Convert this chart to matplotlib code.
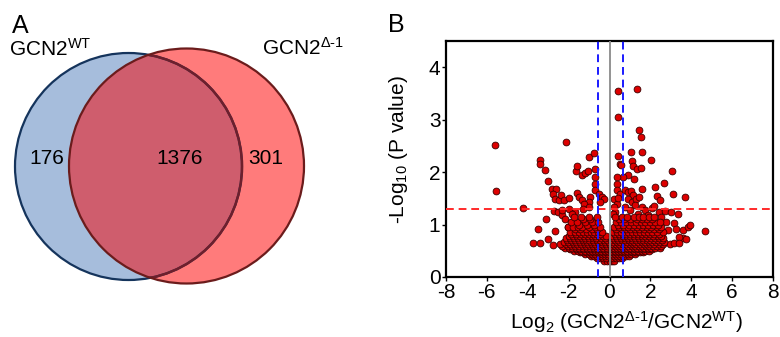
import matplotlib
matplotlib.use("Agg")
import matplotlib.pyplot as plt
from matplotlib.patches import Circle
import numpy as np

plt.rcParams['font.family'] = ['Liberation Sans', 'DejaVu Sans']
plt.rcParams['mathtext.fontset'] = 'custom'
plt.rcParams['mathtext.rm'] = 'Liberation Sans'
plt.rcParams['mathtext.it'] = 'Liberation Sans:italic'
plt.rcParams['mathtext.bf'] = 'Liberation Sans:bold'

# ---------------- Venn data ----------------
venn_labels = [r'GCN2$^{\mathrm{WT}}$', r'GCN2$^{\mathrm{Δ‐1}}$']
venn_counts = [176, 1376, 301]  # only WT, both, only Δ-1

# ---------------- Volcano data ----------------
# sparse / outlying points (log2 fold change, -log10 p)
out_x = [-5.62, -5.54, -4.25, -2.15,
         -3.39, -3.39, -3.15, -3.0, -2.8, -2.6, -2.76, -2.66, -2.47, -2.39, -2.23, -1.99,
         -3.09, -3.52, -3.72, -3.41, -3.0, -2.76, -2.66, -2.71, -2.5, -2.31, -2.34, -1.99,
         -1.58, -1.5, -1.37, -1.66, -1.57, -1.34, -1.18, -1.07, -0.99, -0.78, -0.73, -0.69,
         -0.73, -0.69, -0.50, -0.37, -0.26, -0.45, -0.94, -1.02, -1.26, -1.02, -1.31, -1.70,
         -1.83, -2.20, -1.83, -2.02, -2.23, -1.99,
         0.40, 1.36, 0.44, 1.45, 1.53, 0.44, 1.03, 1.60, 2.04, 1.08, 0.53, 1.13, 1.37, 1.53,
         0.89, 1.20, 0.65, 0.39, 0.37, 3.05, 2.67, 3.09, 3.68, 1.60, 2.25, 2.33, 2.46, 2.10,
         2.18, 2.44, 2.70, 2.99, 3.34, 2.54, 2.78, 3.18, 2.86, 3.26, 3.59, 3.83, 3.96, 4.67,
         3.59, 3.75, 3.38, 2.94, 3.18, 3.39, 2.46, 2.21, 0.58,
         0.39, 0.52, 0.23, 0.36, 0.24, 0.27, 0.15, 0.44, 0.76, 0.92, 1.05, 1.16, 0.89, 1.08,
         1.32, 1.44, 1.24, 1.57, 0.76, 1.00, 1.73, 1.89, 1.41]
out_y = [2.51, 1.64, 1.32, 2.58,
         2.23, 2.16, 2.04, 1.83, 1.67, 1.67, 1.58, 1.48, 1.47, 1.56, 1.47, 1.50,
         1.10, 0.91, 0.64, 0.65, 0.72, 0.61, 0.88, 1.26, 1.24, 1.18, 1.28, 1.29,
         1.61, 1.53, 1.47, 2.03, 2.11, 1.94, 1.99, 2.03, 2.29, 2.37, 2.05, 1.91,
         1.78, 1.66, 1.59, 1.52, 1.48, 1.43, 1.52, 1.43, 1.40, 1.33, 1.29, 1.24,
         1.20, 1.10, 1.05, 0.95, 0.58, 0.58,
         3.54, 3.58, 3.05, 2.81, 2.67, 2.31, 2.39, 2.38, 2.24, 2.22, 2.15, 2.12, 2.06, 2.08,
         1.94, 1.86, 1.91, 1.90, 1.78, 2.03, 1.80, 1.59, 1.52, 1.67, 1.72, 1.54, 1.47, 1.32,
         1.35, 1.23, 1.26, 1.24, 1.21, 1.14, 1.05, 1.03, 0.90, 0.91, 0.90, 0.96, 0.99, 0.88,
         0.74, 0.72, 0.76, 0.63, 0.64, 0.64, 0.59, 0.65, 2.13,
         1.66, 1.58, 1.49, 1.40, 1.33, 1.24, 1.21, 1.50, 1.66, 1.63, 1.64, 1.56, 1.48, 1.43,
         1.48, 1.53, 1.37, 1.33, 1.33, 1.28, 1.28, 1.18, 1.21]

# dense core, row by row (-log10 p level and the fold changes read along it)
dense_levels = [0.31, 0.37, 0.40, 0.43, 0.47, 0.50, 0.53, 0.56, 0.60, 0.63, 0.67, 0.70,
                0.74, 0.78, 0.82, 0.86, 0.91, 0.95, 1.00, 1.05, 1.10, 1.15]
dense_rows = [
    [-0.25, -0.12, 0.0, 0.1, 0.22],
    [-0.6, -0.45, -0.3, -0.15, 0.05, 0.18, 0.32, 0.48, 0.62],
    [-0.9, -0.75, -0.62, -0.48, -0.35, -0.22, -0.08, 0.08, 0.2, 0.35, 0.5, 0.68, 0.82, 0.97],
    [-1.2, -1.0, -0.85, -0.7, -0.52, -0.38, -0.2, -0.05, 0.12, 0.28, 0.42, 0.58, 0.75, 0.9, 1.05, 1.25],
    [-1.45, -1.3, -1.1, -0.95, -0.78, -0.62, -0.46, -0.3, -0.14, 0.02, 0.18, 0.33, 0.5, 0.65,
     0.8, 0.97, 1.13, 1.3, 1.48, 1.62],
    [-1.75, -1.55, -1.38, -1.2, -1.02, -0.88, -0.7, -0.55, -0.4, -0.22, -0.08, 0.08, 0.25, 0.4,
     0.55, 0.72, 0.88, 1.05, 1.22, 1.4, 1.58, 1.75, 1.95],
    [-1.95, -1.65, -1.47, -1.28, -1.1, -0.93, -0.78, -0.62, -0.48, -0.32, -0.15, 0.0, 0.15, 0.32,
     0.47, 0.62, 0.78, 0.95, 1.12, 1.3, 1.47, 1.65, 1.85, 2.1],
    [-2.2, -2.0, -1.85, -1.65, -1.48, -1.3, -1.12, -0.95, -0.78, -0.6, -0.45, -0.3, -0.12, 0.05,
     0.2, 0.35, 0.5, 0.68, 0.85, 1.0, 1.18, 1.35, 1.52, 1.7, 1.88, 2.05, 2.25, 2.45],
    [-2.3, -2.05, -1.85, -1.67, -1.5, -1.32, -1.15, -0.97, -0.8, -0.62, -0.43, -0.27, -0.1, 0.08,
     0.25, 0.42, 0.58, 0.75, 0.92, 1.08, 1.25, 1.42, 1.6, 1.77, 1.95, 2.12, 2.3, 2.52],
    [-2.4, -2.15, -1.95, -1.75, -1.58, -1.4, -1.22, -1.05, -0.88, -0.7, -0.52, -0.35, -0.18, 0.0,
     0.15, 0.32, 0.48, 0.65, 0.82, 1.0, 1.15, 1.32, 1.5, 1.68, 1.85, 2.0, 2.2, 2.4, 2.6],
    [-2.25, -2.02, -1.8, -1.62, -1.45, -1.27, -1.1, -0.92, -0.75, -0.57, -0.38, -0.2, -0.03, 0.17,
     0.35, 0.52, 0.7, 0.87, 1.05, 1.22, 1.4, 1.57, 1.75, 1.92, 2.1, 2.28, 2.47, 2.68],
    [-2.1, -1.88, -1.7, -1.5, -1.32, -1.15, -0.98, -0.8, -0.62, -0.45, -0.28, -0.1, 0.08, 0.25,
     0.42, 0.6, 0.78, 0.95, 1.12, 1.3, 1.48, 1.65, 1.82, 2.0, 2.18, 2.38, 2.55],
    [-2.15, -1.95, -1.75, -1.55, -1.37, -1.18, -1.0, -0.82, -0.65, -0.4, -0.22, 0.18, 0.38, 0.57,
     0.75, 0.92, 1.1, 1.27, 1.45, 1.62, 1.82, 2.02, 2.22, 2.42, 2.62],
    [-2.0, -1.8, -1.6, -1.42, -1.25, -1.05, -0.88, -0.7, -0.5, -0.32, -0.15, 0.1, 0.3, 0.5, 0.68,
     0.85, 1.02, 1.2, 1.4, 1.58, 1.75, 1.95, 2.15, 2.35, 2.5],
    [-1.88, -1.62, -1.4, -1.2, -1.0, -0.82, -0.62, -0.45, 0.25, 0.45, 0.65, 0.82, 1.0, 1.2,
     1.38, 1.6, 1.8, 2.0, 2.2, 2.42],
    [-1.95, -1.7, -1.5, -1.3, -1.1, -0.92, -0.75, -0.55, -0.35, 0.15, 0.35, 0.55, 0.75, 0.92,
     1.1, 1.3, 1.5, 1.7, 1.9, 2.1, 2.3, 2.6],
    [-1.7, -1.45, -1.15, -0.85, -0.6, 0.32, 0.6, 0.8, 1.02, 1.25, 1.45, 1.7, 1.95, 2.18, 2.4],
    [-2.05, -1.8, -1.55, -1.35, -1.0, -0.7, -0.45, 0.2, 0.45, 0.7, 0.9, 1.15, 1.35, 1.6, 1.85,
     2.05, 2.3, 2.5],
    [-1.5, -1.1, -0.75, 0.4, 0.65, 0.95, 1.2, 1.42, 1.65, 1.9, 2.12, 2.35],
    [-1.9, -1.6, -1.2, -0.85, -0.55, 0.3, 0.55, 0.8, 1.05, 1.3, 1.55, 1.75, 2.0, 2.25, 2.45],
    [-1.3, -0.95, 0.45, 0.72, 0.98, 1.35, 1.6, 1.85, 2.1],
    [-1.75, -1.4, -1.0, -0.6, 0.25, 0.6, 0.85, 1.2, 1.45, 1.65, 1.95, 2.2],
]

p_threshold = 1.3
fc_thresholds = [-0.58, 0.66]
x_ticks = [-8, -6, -4, -2, 0, 2, 4, 6, 8]
y_ticks = [0, 1, 2, 3, 4]

# ---------------- Figure ----------------
fig = plt.figure(figsize=(7.8, 3.37), dpi=100)

# Venn panel, in pixel-like coordinates
axv = fig.add_axes([0, 0, 0.5, 1])
axv.set_xlim(0, 390)
axv.set_ylim(337, 0)
axv.axis('off')

blue_c, blue_r = (128.5, 166.5), 113.5
red_c, red_r = (186.5, 166.0), 117.5

blue_fill = Circle(blue_c, blue_r, facecolor='#a6bddc', edgecolor='none', zorder=1)
axv.add_patch(blue_fill)
red_fill = Circle(red_c, red_r, facecolor='#ff7b7b', edgecolor='none', zorder=2)
axv.add_patch(red_fill)
overlap = Circle(red_c, red_r, facecolor='#cf5d6d', edgecolor='none', zorder=3)
axv.add_patch(overlap)
overlap.set_clip_path(blue_fill)
blue_edge = Circle(blue_c, blue_r, facecolor='none', edgecolor='#15345c', lw=1.6, zorder=4)
axv.add_patch(blue_edge)
blue_edge_in = Circle(blue_c, blue_r, facecolor='none', edgecolor='#6e1f2c', lw=1.8, zorder=5)
axv.add_patch(blue_edge_in)
blue_edge_in.set_clip_path(red_fill)
red_edge = Circle(red_c, red_r, facecolor='none', edgecolor='#6b1c1c', lw=1.6, zorder=6)
axv.add_patch(red_edge)

axv.text(12, 33, 'A', fontsize=18, ha='left', va='baseline')
axv.text(9, 56, venn_labels[0], fontsize=15, ha='left', va='baseline')
axv.text(262, 55, venn_labels[1], fontsize=15, ha='left', va='baseline')
axv.text(47, 158, str(venn_counts[0]), fontsize=15, ha='center', va='center', zorder=7)
axv.text(180, 158, str(venn_counts[1]), fontsize=15, ha='center', va='center', zorder=7)
axv.text(266, 158, str(venn_counts[2]), fontsize=15, ha='center', va='center', zorder=7)

# Volcano panel
ax = fig.add_axes([446/780, 1-277/337, 327/780, 236/337])
dx = list(out_x)
dy = list(out_y)
for lvl, row in zip(dense_levels, dense_rows):
    dx.extend(row)
    dy.extend([lvl] * len(row))
ax.scatter(dx, dy, s=24, c='#dd0000', edgecolors='#3a0000', linewidths=0.6, zorder=2)

ax.axhline(p_threshold, color='#ff2a2a', lw=1.4, ls=(0, (4, 2.5)), zorder=3)
for v in fc_thresholds:
    ax.axvline(v, color='#1a1aff', lw=1.4, ls=(0, (4, 2.5)), zorder=3)
ax.axvline(0, color='#8a8a8a', lw=1.3, zorder=3)

ax.set_xlim(-8, 8)
ax.set_ylim(0, 4.5)
ax.set_xticks(x_ticks)
ax.set_yticks(y_ticks)
ax.set_xticklabels([str(t) for t in x_ticks])
ax.set_yticklabels([str(t) for t in y_ticks])
ax.tick_params(labelsize=15, length=3, width=1, pad=1, direction='out')
for s in ax.spines.values():
    s.set_linewidth(1.6)
    s.set_color('black')

fig.text(388/780, 1-32/337, 'B', fontsize=18, ha='left', va='baseline')
fig.text(399/780, 1-150/337, r'-Log$_{\mathrm{10}}$ (P value)', fontsize=15,
         rotation=90, ha='center', va='center')
fig.text(626/780, 1-322/337, r'Log$_{\mathrm{2}}$ (GCN2$^{\mathrm{Δ‐1}}$/GCN2$^{\mathrm{WT}}$)',
         fontsize=15, ha='center', va='center')

fig.savefig('out.png', dpi=100)
